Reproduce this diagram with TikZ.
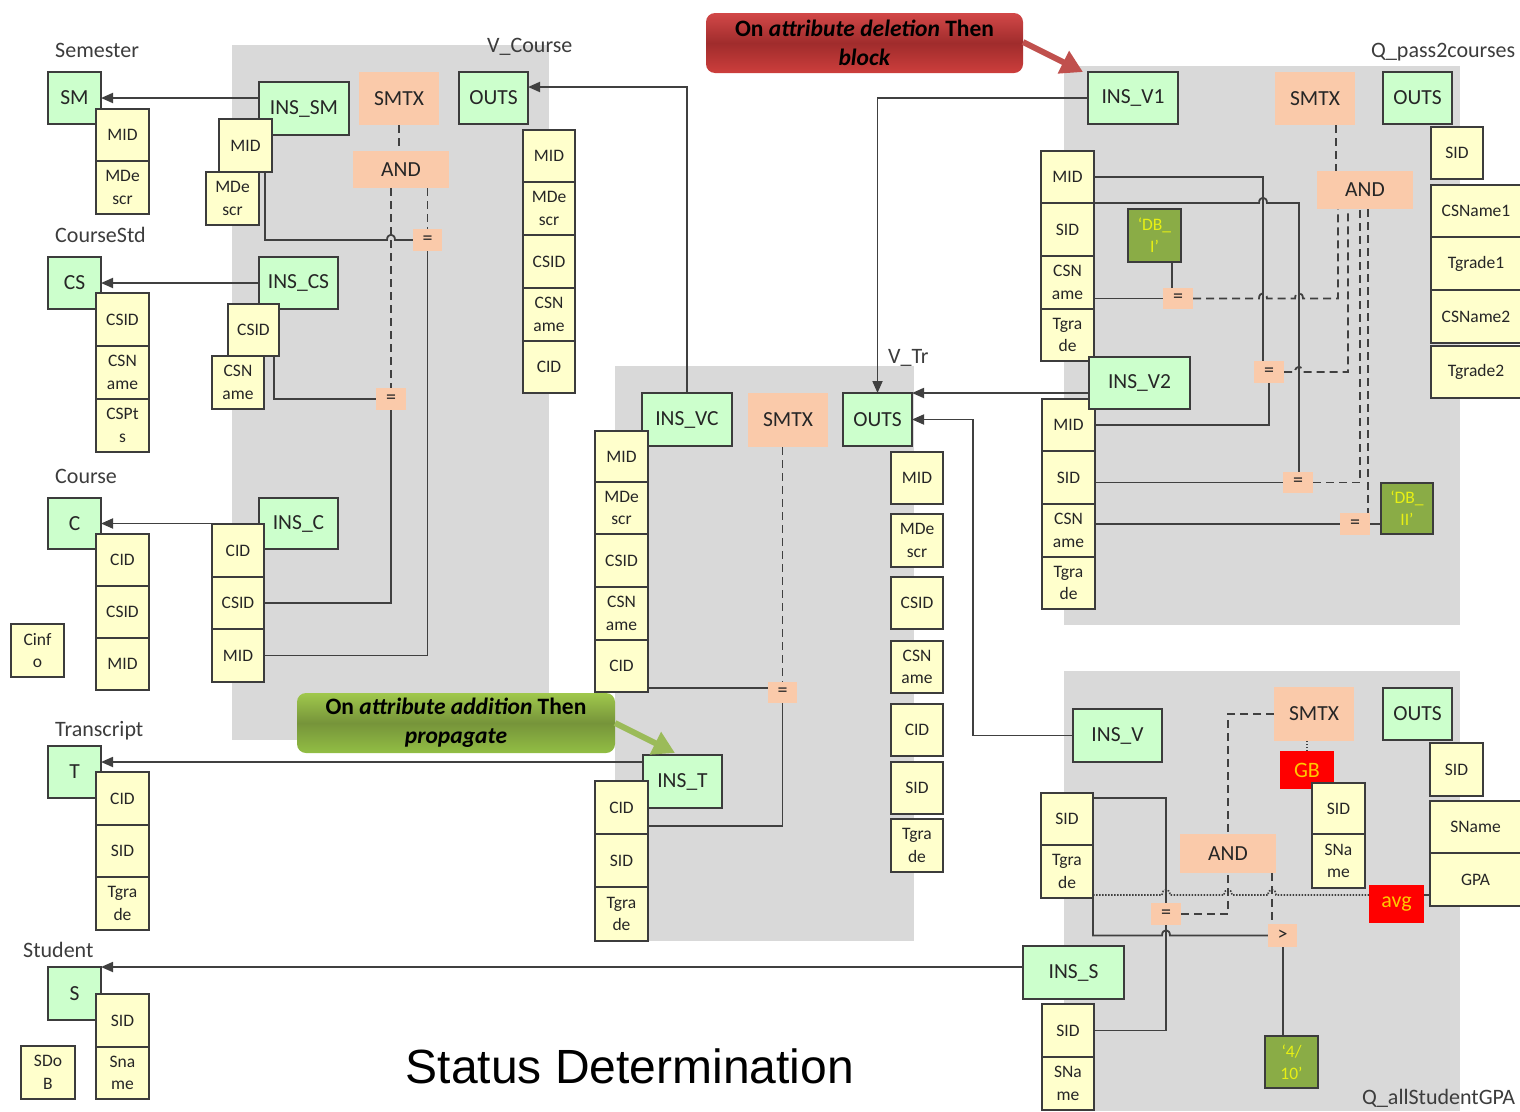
\documentclass[tikz,border=0pt]{standalone}
\usepackage{fontspec}
\setmainfont{Carlito}
\newfontfamily\titlefont{Liberation Sans}
\usetikzlibrary{arrows.meta}

\definecolor{panel}{RGB}{217,217,217}
\definecolor{edge}{RGB}{60,60,60}
\definecolor{wirecol}{RGB}{64,64,64}
\definecolor{entfill}{RGB}{204,255,204}
\definecolor{attrfill}{RGB}{255,255,204}
\definecolor{opfill}{RGB}{250,202,170}
\definecolor{constfill}{RGB}{138,172,70}
\definecolor{consttext}{RGB}{232,240,20}
\definecolor{aggfill}{RGB}{255,0,0}
\definecolor{aggtext}{RGB}{255,200,0}
\definecolor{txt}{RGB}{38,38,38}
\definecolor{redtop}{RGB}{210,72,72}
\definecolor{redmid}{RGB}{160,44,44}
\definecolor{redbot}{RGB}{205,62,60}
\definecolor{redarrow}{RGB}{192,80,77}
\definecolor{grntop}{RGB}{160,200,76}
\definecolor{grnmid}{RGB}{118,148,58}
\definecolor{grnbot}{RGB}{146,190,68}
\definecolor{grnarrow}{RGB}{155,187,89}

\pgfdeclarelayer{panels}
\pgfdeclarelayer{wires}
\pgfsetlayers{panels,wires,main}

% a small bridge where a line jumps over a crossing vertical line
\newcommand\wirehop[2]{-- ({#1-4},#2) .. controls ({#1-4},{#2-7}) and ({#1+4},{#2-7}) .. ({#1+4},#2)}

\begin{document}
\begin{tikzpicture}[x=1pt,y=-1pt,
  box/.style n args={4}{at={({(#1+#3)/2},{(#2+#4)/2})},
    minimum width={(#3-#1)*1pt}, minimum height={(#4-#2)*1pt}},
  base/.style={inner sep=0pt, outer sep=0pt, align=center, text=txt},
  ent/.style={base, draw=edge, fill=entfill, line width=1.7pt,
    font=\fontsize{21.5}{24}\selectfont},
  attr/.style={base, draw=edge, fill=attrfill, line width=1.7pt,
    font=\fontsize{17.5}{22.5}\selectfont},
  op/.style={base, fill=opfill, font=\fontsize{21.5}{24}\selectfont},
  eqbox/.style={base, fill=opfill, font=\fontsize{20}{22}\selectfont},
  const/.style={base, draw=edge, fill=constfill, line width=1.7pt,
    text=consttext, font=\fontsize{17.5}{22}\selectfont},
  agg/.style={base, fill=aggfill, text=aggtext, font=\fontsize{22}{24}\selectfont},
  lbl/.style={inner sep=0pt, anchor=base west, text=txt!90,
    font=\fontsize{22}{24}\selectfont},
  wire/.style={draw=wirecol, line width=1.8pt},
  cond/.style={wire, dash pattern=on 8pt off 5pt},
  dotline/.style={draw=wirecol, line width=1.6pt, dash pattern=on 1.5pt off 1.5pt},
  arr/.style={wire, -{Triangle[length=12pt,width=10pt]}},
  note/.style={inner sep=0pt, outer sep=0pt, align=center, rounded corners=9pt,
    text=black, font=\bfseries\fontsize{23.5}{29}\selectfont},
  rednote/.style={note, top color=redtop, bottom color=redbot, middle color=redmid},
  grnnote/.style={note, top color=grntop, bottom color=grnbot, middle color=grnmid},
  notearrow/.style={line width=6pt, -{Triangle[length=22pt,width=24pt]}}
]
\useasboundingbox (0,0) rectangle (1520,1111);

% ---------- query panels ----------
\begin{pgfonlayer}{panels}
  \fill[panel] (232,45) rectangle (549,740);
  \fill[panel] (615,366) rectangle (914,941);
  \fill[panel] (1064,66) rectangle (1460,625);
  \fill[panel] (1064,671) rectangle (1460,1111);
\end{pgfonlayer}

% ---------- titles ----------
\node[lbl] (lSem) at (55,57) {Semester};
\node[lbl] (lCS) at (55,242) {CourseStd};
\node[lbl] (lC) at (55,483) {Course};
\node[lbl] (lT) at (55,736) {Transcript};
\node[lbl] (lS) at (23,957) {Student};
\node[lbl] (lVC) at (487,52) {V\_Course};
\node[lbl] (lVT) at (888,363) {V\_Tr};
\node[lbl] (lQ1) at (1371,57) {Q\_pass2courses};
\node[lbl] (lQ2) at (1362,1104) {Q\_allStudentGPA};
\node[inner sep=0pt, anchor=base, font=\titlefont\fontsize{48}{52}\selectfont]
  (title) at (630,1083) {Status Determination};

% ---------- base relations ----------
\node[ent, box={48}{72}{101}{124}] (SM) {SM};
\node[attr, box={96}{109}{149}{161}] (SMa) {MID};
\node[attr, box={96}{161}{149}{214}] (SMb) {MDe\\scr};

\node[ent, box={48}{257}{101}{309}] (CS) {CS};
\node[attr, box={96}{293}{149}{346}] (CSa) {CSID};
\node[attr, box={96}{346}{149}{399}] (CSb) {CSN\\ame};
\node[attr, box={96}{399}{149}{452}] (CSc) {CSPt\\s};

\node[ent, box={48}{498}{101}{549}] (C) {C};
\node[attr, box={96}{534}{149}{586}] (Ca) {CID};
\node[attr, box={96}{586}{149}{638}] (Cb) {CSID};
\node[attr, box={96}{638}{149}{690}] (Cc) {MID};
\node[attr, box={11}{624}{64}{677}] (Cinfo) {Cinf\\o};

\node[ent, box={48}{746}{101}{798}] (T) {T};
\node[attr, box={96}{772}{149}{825}] (Ta) {CID};
\node[attr, box={96}{825}{149}{877}] (Tb) {SID};
\node[attr, box={96}{877}{149}{930}] (Tc) {Tgra\\de};

\node[ent, box={48}{967}{101}{1020}] (S) {S};
\node[attr, box={96}{994}{149}{1047}] (Sa) {SID};
\node[attr, box={96}{1047}{149}{1099}] (Sb) {Sna\\me};
\node[attr, box={21}{1046}{75}{1099}] (SDoB) {SDo\\B};

% ---------- V_Course ----------
\node[ent, box={259}{82}{349}{135}] (insSM) {INS\_SM};
\node[attr, box={219}{119}{272}{172}] (insSMa) {MID};
\node[attr, box={206}{172}{259}{225}] (insSMb) {MDe\\scr};
\node[ent, box={259}{257}{338}{309}] (insCS) {INS\_CS};
\node[attr, box={228}{304}{279}{356}] (insCSa) {CSID};
\node[attr, box={212}{356}{264}{409}] (insCSb) {CSN\\ame};
\node[ent, box={259}{498}{338}{549}] (insC) {INS\_C};
\node[attr, box={212}{524}{264}{577}] (insCa) {CID};
\node[attr, box={212}{577}{264}{629}] (insCb) {CSID};
\node[attr, box={212}{629}{264}{682}] (insCc) {MID};
\node[op, box={359}{72}{439}{125}] (vcSMTX) {SMTX};
\node[op, box={353}{151}{449}{188}] (vcAND) {AND};
\node[eqbox, box={413}{229}{442}{251}] (vcEqA) {=};
\node[eqbox, box={376}{388}{406}{410}] (vcEqB) {=};
\node[ent, box={459}{72}{528}{124}] (vcOUT) {OUTS};
\node[attr, box={523}{130}{575}{182}] (vcO1) {MID};
\node[attr, box={523}{182}{575}{235}] (vcO2) {MDe\\scr};
\node[attr, box={523}{235}{575}{288}] (vcO3) {CSID};
\node[attr, box={523}{288}{575}{341}] (vcO4) {CSN\\ame};
\node[attr, box={523}{341}{575}{393}] (vcO5) {CID};

% ---------- V_Tr ----------
\node[ent, box={642}{393}{732}{446}] (insVC) {INS\_VC};
\node[attr, box={595}{431}{648}{482}] (insVCa) {MID};
\node[attr, box={595}{482}{648}{534}] (insVCb) {MDe\\scr};
\node[attr, box={595}{534}{648}{587}] (insVCc) {CSID};
\node[attr, box={595}{587}{648}{640}] (insVCd) {CSN\\ame};
\node[attr, box={595}{640}{648}{692}] (insVCe) {CID};
\node[op, box={748}{393}{828}{447}] (vtSMTX) {SMTX};
\node[eqbox, box={768}{682}{797}{703}] (vtEq) {=};
\node[ent, box={843}{393}{912}{446}] (vtOUT) {OUTS};
\node[attr, box={891}{452}{943}{504}] (vtO1) {MID};
\node[attr, box={891}{514}{943}{567}] (vtO2) {MDe\\scr};
\node[attr, box={891}{577}{943}{629}] (vtO3) {CSID};
\node[attr, box={891}{641}{943}{693}] (vtO4) {CSN\\ame};
\node[attr, box={891}{704}{943}{756}] (vtO5) {CID};
\node[attr, box={891}{762}{943}{814}] (vtO6) {SID};
\node[attr, box={891}{819}{943}{872}] (vtO7) {Tgra\\de};
\node[ent, box={643}{755}{722}{808}] (insT) {INS\_T};
\node[attr, box={595}{781}{648}{834}] (insTa) {CID};
\node[attr, box={595}{834}{648}{887}] (insTb) {SID};
\node[attr, box={595}{887}{648}{941}] (insTc) {Tgra\\de};

% ---------- Q_pass2courses ----------
\node[ent, box={1088}{72}{1178}{124}] (insV1) {INS\_V1};
\node[attr, box={1041}{151}{1094}{203}] (v1a) {MID};
\node[attr, box={1041}{203}{1094}{256}] (v1b) {SID};
\node[attr, box={1041}{256}{1094}{309}] (v1c) {CSN\\ame};
\node[attr, box={1041}{309}{1094}{361}] (v1d) {Tgra\\de};
\node[attr, box={1042}{399}{1095}{451}] (v2a) {MID};
\node[attr, box={1042}{451}{1095}{504}] (v2b) {SID};
\node[attr, box={1042}{504}{1095}{557}] (v2c) {CSN\\ame};
\node[attr, box={1042}{557}{1095}{609}] (v2d) {Tgra\\de};
\node[ent, box={1089}{357}{1190}{409}] (insV2) {INS\_V2};
\node[op, box={1275}{72}{1355}{125}] (q1SMTX) {SMTX};
\node[op, box={1317}{171}{1413}{209}] (q1AND) {AND};
\node[ent, box={1383}{72}{1452}{124}] (q1OUT) {OUTS};
\node[attr, box={1431}{127}{1483}{179}] (q1O1) {SID};
\node[attr, box={1431}{185}{1521}{237}] (q1O2) {CSName1};
\node[attr, box={1431}{237}{1521}{290}] (q1O3) {Tgrade1};
\node[attr, box={1431}{290}{1521}{343}] (q1O4) {CSName2};
\node[attr, box={1431}{346}{1521}{398}] (q1O5) {Tgrade2};
\node[const, box={1128}{209}{1181}{262}] (dbI) {‘DB\_\\I’};
\node[const, box={1381}{483}{1433}{534}] (dbII) {‘DB\_\\II’};
\node[eqbox, box={1163}{288}{1193}{309}] (q1e1) {=};
\node[eqbox, box={1254}{361}{1284}{383}] (q1e2) {=};
\node[eqbox, box={1283}{472}{1313}{493}] (q1e3) {=};
\node[eqbox, box={1340}{513}{1370}{535}] (q1e4) {=};

% ---------- Q_allStudentGPA ----------
\node[ent, box={1073}{709}{1162}{762}] (insV) {INS\_V};
\node[attr, box={1041}{793}{1093}{845}] (q2a) {SID};
\node[attr, box={1041}{845}{1093}{898}] (q2b) {Tgra\\de};
\node[ent, box={1023}{946}{1124}{999}] (insS) {INS\_S};
\node[attr, box={1042}{1004}{1094}{1057}] (insSa) {SID};
\node[attr, box={1042}{1057}{1094}{1110}] (insSb) {SNa\\me};
\node[op, box={1274}{687}{1354}{741}] (q2SMTX) {SMTX};
\node[agg, box={1280}{751}{1334}{789}] (GB) {GB};
\node[attr, box={1312}{783}{1365}{834}] (gbA) {SID};
\node[attr, box={1312}{834}{1365}{888}] (gbB) {SNa\\me};
\node[ent, box={1383}{688}{1452}{740}] (q2OUT) {OUTS};
\node[attr, box={1430}{743}{1483}{796}] (q2O1) {SID};
\node[attr, box={1430}{801}{1521}{853}] (q2O2) {SName};
\node[attr, box={1430}{853}{1521}{906}] (q2O3) {GPA};
\node[agg, box={1369}{885}{1424}{923}] (avg) {avg};
\node[op, box={1180}{834}{1276}{873}] (q2AND) {AND};
\node[eqbox, box={1151}{903}{1181}{925}] (q2eq) {=};
\node[eqbox, box={1268}{924}{1297}{947}] (q2gt) {>};
\node[const, box={1265}{1036}{1318}{1088}] (c410) {‘4/\\10’};

% ---------- connectors ----------
\begin{pgfonlayer}{wires}
  % inserts feeding the base relations
  \draw[arr] (insSM.west |- SM.east) -- (SM.east);
  \draw[arr] (insCS.west |- CS.east) -- (CS.east);
  \draw[arr] (insC.west |- C.east) -- (C.east);
  \draw[arr] (insT.west |- 0,762) -- (T.east |- 0,762);
  \draw[arr] (insS.west |- S.north east) -- (S.north east);

  % V_Course
  \draw[cond] (vcSMTX.south -| 399,0) -- (vcAND.north -| 399,0);
  \draw[cond] (vcEqB.north |- vcAND.south) -- (vcEqB.north);
  \draw[cond] (vcEqA.north |- vcAND.south) -- (vcEqA.north);
  \draw[wire] (insSMa.south -| 265,0) -- (265,240) \wirehop{391}{240} -- (vcEqA.west);
  \draw[wire] (insCSa.south -| 274,0) |- (vcEqB.west);
  \draw[wire] (vcEqA.south) |- (insCc.east);
  \draw[wire] (vcEqB.south) |- (insCb.east);
  \draw[arr] (insVC.north) |- ([yshift=11pt]vcOUT.east);

  % V_Tr
  \draw[cond] (vtEq.north |- vtSMTX.south) -- (vtEq.north);
  \draw[wire] (insVCe.east |- 0,688) -- (vtEq.west |- 0,688);
  \draw[wire] (vtEq.south) |- (insTa.east |- 0,826);
  \draw[arr] (insV1.west) -| (vtOUT.north);
  \draw[arr] (insV2.west |- vtOUT.north east) -- (vtOUT.north east);
  \draw[arr] (insV.west) -- ++(-100,0) |- (vtOUT.east);

  % Q_pass2courses
  \draw[cond] (q1SMTX.south -| 1336,0) -- (q1AND.north -| 1336,0);
  \draw[wire] (dbI.south -| 1172,0) -- (q1e1.north -| 1172,0);
  \draw[wire] (v1c.east |- q1e1.west) -- (q1e1.west);
  \draw[wire] (v1a.east) -| (q1e2.north -| 1263,0);
  \draw[wire] (v1b.north east) \wirehop{1263}{203} -- (1299,203) -- (q1e3.north -| 1299,0);
  \draw[wire] (q1e2.south) |- (v2a.east);
  \draw[wire] (v2b.east |- q1e3.west) -- (q1e3.west);
  \draw[wire] (v2c.east |- q1e4.west) -- (q1e4.west);
  \draw[wire] (q1e4.east) -- (dbII.west |- q1e4.east);
  \draw[cond] (q1e1.east) \wirehop{1263}{298.5} \wirehop{1299}{298.5} -- (1338,298.5) -- (q1AND.south -| 1338,0);
  \draw[cond] (q1e2.east) \wirehop{1299}{372} -- (1348,372) -- (q1AND.south -| 1348,0);
  \draw[cond] (q1e3.east) -- (1360,482.5) -- (q1AND.south -| 1360,0);
  \draw[cond] (q1AND.south -| 1368,0) -- (q1e4.north -| 1368,0);

  % Q_allStudentGPA
  \draw[dotline] (GB.north) -- (GB.north |- q2SMTX.south);
  \draw[cond] (q2SMTX.west) -| (q2AND.north);
  \draw[wire] (q2a.east |- 0,798) -| (q2eq.north);
  \draw[wire] (q2b.south east) -- (1093,935.5) \wirehop{1166}{935.5} -- (q2gt.west);
  \draw[dotline] (q2b.east |- 0,895) \wirehop{1166}{895} \wirehop{1228}{895} \wirehop{1272}{895} -- (avg.west |- 0,895);
  \draw[wire] (insSa.east) -| (q2eq.south);
  \draw[cond] (q2eq.east) -| (q2AND.south);
  \draw[cond] (q2AND.south -| 1272,0) -- (q2gt.north -| 1272,0);
  \draw[wire] (q2gt.south -| 1283,0) -- (c410.north -| 1283,0);
  \draw[wire] (avg.east |- 0,895) -- (q2O3.west |- 0,895);
\end{pgfonlayer}

% ---------- rule callouts ----------
\node[rednote, box={706}{13}{1023}{73}] (delNote)
  {On \textit{attribute deletion} Then\\\textit{block}};
\draw[notearrow, redarrow] (delNote.east |- 0,42) -- (1083,72) coordinate (delTip);
\node[grnnote, box={297}{693}{615}{753}] (addNote)
  {On \textit{attribute addition} Then\\\textit{propagate}};
\draw[notearrow, grnarrow] (addNote.east) -- (675,753) coordinate (addTip);
\end{tikzpicture}
\end{document}
